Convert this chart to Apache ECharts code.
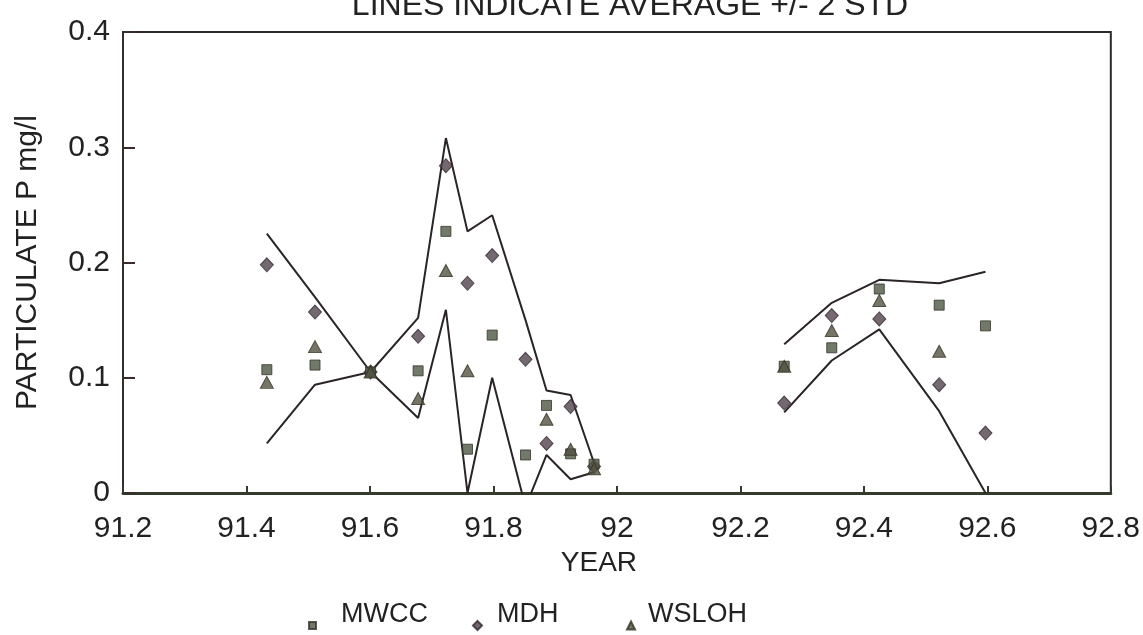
<!DOCTYPE html>
<html>
<head>
<meta charset="utf-8">
<script src="https://cdn.jsdelivr.net/npm/echarts@6/dist/echarts.min.js"></script>
<style>
html,body{margin:0;padding:0;background:#fff;}
#chart{width:1143px;height:635px;}
</style>
</head>
<body>
<div id="chart"></div>
<script>
var titleText = 'LINES INDICATE AVERAGE +/- 2 STD';
var xAxisName = 'YEAR';
var yAxisName = 'PARTICULATE P mg/l';

var years = [91.433, 91.511, 91.601, 91.678, 91.723, 91.758, 91.798, 91.852, 91.886, 91.925, 91.963, 92.271, 92.348, 92.425, 92.522, 92.597];
var mwcc  = [0.107, 0.111, 0.105, 0.106, 0.227, 0.038, 0.137, 0.033, 0.076, 0.034, 0.025, 0.110, 0.126, 0.177, 0.163, 0.145];
var mdh   = [0.198, 0.157, 0.105, 0.136, 0.284, 0.182, 0.206, 0.116, 0.043, 0.075, 0.023, 0.078, 0.154, 0.151, 0.094, 0.052];
var wsloh = [0.096, 0.127, 0.105, 0.082, 0.193, 0.106, null, null, 0.064, 0.038, 0.021, 0.110, 0.141, 0.167, 0.123, null];
var upper = [0.225, 0.170, 0.105, 0.152, 0.308, 0.227, 0.241, 0.150, 0.089, 0.085, 0.026, 0.129, 0.165, 0.185, 0.182, 0.192];
var lower = [0.043, 0.094, 0.105, 0.065, 0.159, 0.000, 0.100, -0.012, 0.033, 0.012, 0.018, 0.070, 0.115, 0.142, 0.071, 0.000];
var breakAfterIndex = 10; // sampling gap between the two seasons

function pts(vals) {
  var out = [];
  for (var i = 0; i < years.length; i++) {
    if (vals[i] !== null) out.push([years[i], vals[i]]);
  }
  return out;
}
function linePts(vals) {
  var out = [];
  for (var i = 0; i < years.length; i++) {
    out.push([years[i], vals[i]]);
    if (i === breakAfterIndex) out.push(['-', '-']);
  }
  return out;
}

var FONT = 'Liberation Sans, Arial, sans-serif';
var TXT = '#222';
var chart = echarts.init(document.getElementById('chart'));
var lineStyle = { color: '#2a2426', width: 2 };

function legendText(padLeft) {
  return {
    fontFamily: FONT, fontSize: 27, color: TXT,
    rich: { t: { fontFamily: FONT, fontSize: 27, color: TXT, padding: [0, 0, 22, padLeft] } }
  };
}

chart.setOption({
  backgroundColor: '#fff',
  animation: false,
  title: {
    text: titleText,
    left: 625,
    top: -15,
    textAlign: 'center',
    textStyle: { fontFamily: FONT, fontSize: 32, fontWeight: 'normal', color: TXT }
  },
  grid: {
    left: 123, top: 32, right: 32, bottom: 142,
    show: true, borderColor: '#2e2a28', borderWidth: 2, backgroundColor: 'transparent'
  },
  legend: [
    { data: [{ name: 'MWCC', icon: 'rect' }], left: 303, top: 596, itemWidth: 7, itemHeight: 7,
      formatter: '{t|{name}}', textStyle: legendText(20) },
    { data: [{ name: 'MDH', icon: 'diamond' }], left: 467, top: 596, itemWidth: 9, itemHeight: 9,
      formatter: '{t|{name}}', textStyle: legendText(10) },
    { data: [{ name: 'WSLOH', icon: 'triangle' }], left: 621, top: 596, itemWidth: 8, itemHeight: 8,
      formatter: '{t|{name}}', textStyle: legendText(8) }
  ],
  xAxis: {
    type: 'value', min: 91.2, max: 92.8, interval: 0.2,
    name: xAxisName, nameLocation: 'middle', nameGap: 56,
    nameTextStyle: { fontFamily: FONT, fontSize: 28, color: TXT, padding: [0, 36, 0, 0] },
    axisLine: { show: true, onZero: false, lineStyle: { color: '#343a2c', width: 3 } },
    axisTick: { show: true, inside: true, length: 7, lineStyle: { color: '#343a2c', width: 2 } },
    axisLabel: { fontFamily: FONT, fontSize: 30, color: TXT, margin: 21 },
    splitLine: { show: false }
  },
  yAxis: {
    type: 'value', min: 0, max: 0.4, interval: 0.1,
    name: yAxisName, nameLocation: 'middle', nameGap: 80, nameRotate: 90,
    nameTextStyle: { fontFamily: FONT, fontSize: 30, color: TXT },
    axisLine: { show: true, lineStyle: { color: '#3a2c2a', width: 2 } },
    axisTick: { show: true, inside: true, length: 12, lineStyle: { color: '#3a2c2a', width: 2 } },
    axisLabel: { fontFamily: FONT, fontSize: 30, color: TXT, margin: 13 },
    splitLine: { show: false }
  },
  series: [
    { name: 'upper', type: 'line', data: linePts(upper), showSymbol: false, symbol: 'none',
      lineStyle: lineStyle, z: 2, silent: true },
    { name: 'lower', type: 'line', data: linePts(lower), showSymbol: false, symbol: 'none',
      lineStyle: lineStyle, z: 2, silent: true },
    { name: 'MWCC', type: 'scatter', data: pts(mwcc), symbol: 'rect', symbolSize: 10,
      itemStyle: { color: '#4d5842', borderColor: '#33332a', borderWidth: 1 }, z: 4 },
    { name: 'MDH', type: 'scatter', data: pts(mdh), symbol: 'diamond', symbolSize: [13, 14],
      itemStyle: { color: '#52444d', borderColor: '#33292f', borderWidth: 1 }, z: 3 },
    { name: 'WSLOH', type: 'scatter', data: pts(wsloh), symbol: 'triangle', symbolSize: [13, 12],
      itemStyle: { color: '#545240', borderColor: '#333326', borderWidth: 1 }, z: 5 }
  ]
});
</script>
</body>
</html>
